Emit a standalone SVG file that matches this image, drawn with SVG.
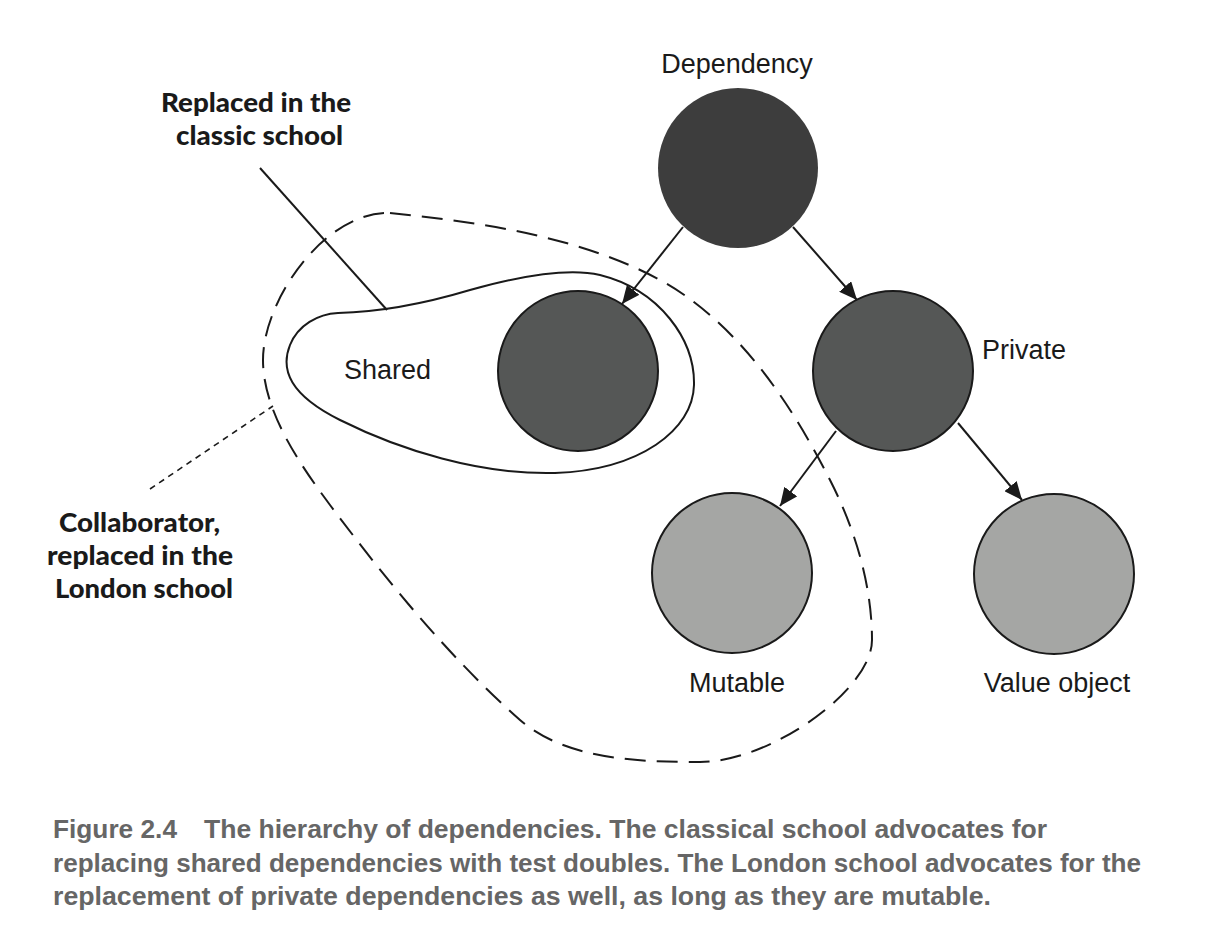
<svg xmlns="http://www.w3.org/2000/svg" width="1226" height="944" viewBox="0 0 1226 944">
<style>
.lbl{font-family:"Liberation Sans",Arial,sans-serif;font-size:27px;fill:#1a1a1a}
.note{font-family:Lato,"Liberation Sans",sans-serif;font-weight:900;font-size:26px;fill:#1a1a1a}
.cap{font-family:"Liberation Sans",Arial,sans-serif;font-weight:bold;font-size:25.5px;fill:#666666}
.node{stroke:#1a1a1a;stroke-width:2}
.dark{fill:#555756}
.light{fill:#a5a6a4}
.conn{stroke:#1a1a1a;stroke-width:2;fill:none}
</style>
<defs>
<marker id="arr" markerUnits="userSpaceOnUse" markerWidth="19" markerHeight="16" refX="18" refY="8" orient="auto">
<path d="M0,0 L18,8 L0,16 z" fill="#1a1a1a"/>
</marker>
</defs>
<rect width="1226" height="944" fill="#fff"/>
<g id="collaborator-region">
<path d="M390,213 C480,222 581,237 660,280 C737,322 791,403 830,480 C855,529 872,585 872,640 C872,690 770,762 700,762 C640,762 566,760 520,720 C449,657 387,581 330,505 C298,462 263,410 263,360 C263,300 325,211 390,213 Z" fill="none" stroke="#1a1a1a" stroke-width="2" stroke-dasharray="21 11"/>
</g>
<g id="shared-region">
<path d="M338,313 C380,312 420,305 470,290 C520,276 570,268 600,275 C660,290 695,340 694,385 C693,430 640,470 555,473 C480,475 400,450 340,420 C290,395 280,370 290,345 C298,325 318,314 338,313 Z" fill="none" stroke="#1a1a1a" stroke-width="2"/>
<text class="lbl" x="344" y="379">Shared</text>
</g>
<g id="dependency">
<circle cx="738" cy="168" r="80" fill="#3d3d3d"/>
<text class="lbl" x="737" y="73" text-anchor="middle">Dependency</text>
</g>
<g id="shared">
<circle class="node dark" cx="578" cy="371" r="80"/>
</g>
<g id="private">
<circle class="node dark" cx="893" cy="371" r="80"/>
<text class="lbl" x="982" y="359">Private</text>
</g>
<g id="mutable">
<circle class="node light" cx="732" cy="573" r="80"/>
<text class="lbl" x="737" y="692" text-anchor="middle">Mutable</text>
</g>
<g id="value-object">
<circle class="node light" cx="1054" cy="574" r="80"/>
<text class="lbl" x="1057" y="692" text-anchor="middle">Value object</text>
</g>
<g id="connectors">
<line class="conn" x1="683" y1="227" x2="622" y2="304" marker-end="url(#arr)"/>
<line class="conn" x1="793" y1="227" x2="857" y2="300" marker-end="url(#arr)"/>
<line class="conn" x1="836" y1="431" x2="780" y2="506" marker-end="url(#arr)"/>
<line class="conn" x1="958" y1="423" x2="1022" y2="500" marker-end="url(#arr)"/>
<line x1="260" y1="168" x2="387" y2="310" stroke="#1a1a1a" stroke-width="2"/>
<line x1="150" y1="489" x2="273" y2="406" stroke="#1a1a1a" stroke-width="1.6" stroke-dasharray="6 5"/>
</g>
<g id="note-classic">
<text class="note" x="161" y="112" textLength="190" lengthAdjust="spacingAndGlyphs">Replaced in the</text>
<text class="note" x="176" y="145" textLength="167" lengthAdjust="spacingAndGlyphs">classic school</text>
</g>
<g id="note-london">
<text class="note" x="59" y="532" textLength="161" lengthAdjust="spacingAndGlyphs">Collaborator,</text>
<text class="note" x="47" y="565" textLength="186" lengthAdjust="spacingAndGlyphs">replaced in the</text>
<text class="note" x="55" y="598" textLength="178" lengthAdjust="spacingAndGlyphs">London school</text>
</g>
<g id="caption">
<text class="cap" x="53" y="838" textLength="124" lengthAdjust="spacingAndGlyphs">Figure 2.4</text>
<text class="cap" x="204" y="838" textLength="843" lengthAdjust="spacingAndGlyphs">The hierarchy of dependencies. The classical school advocates for</text>
<text class="cap" x="53" y="872" textLength="1088" lengthAdjust="spacingAndGlyphs">replacing shared dependencies with test doubles. The London school advocates for the</text>
<text class="cap" x="53" y="905" textLength="938" lengthAdjust="spacingAndGlyphs">replacement of private dependencies as well, as long as they are mutable.</text>
</g>
</svg>
